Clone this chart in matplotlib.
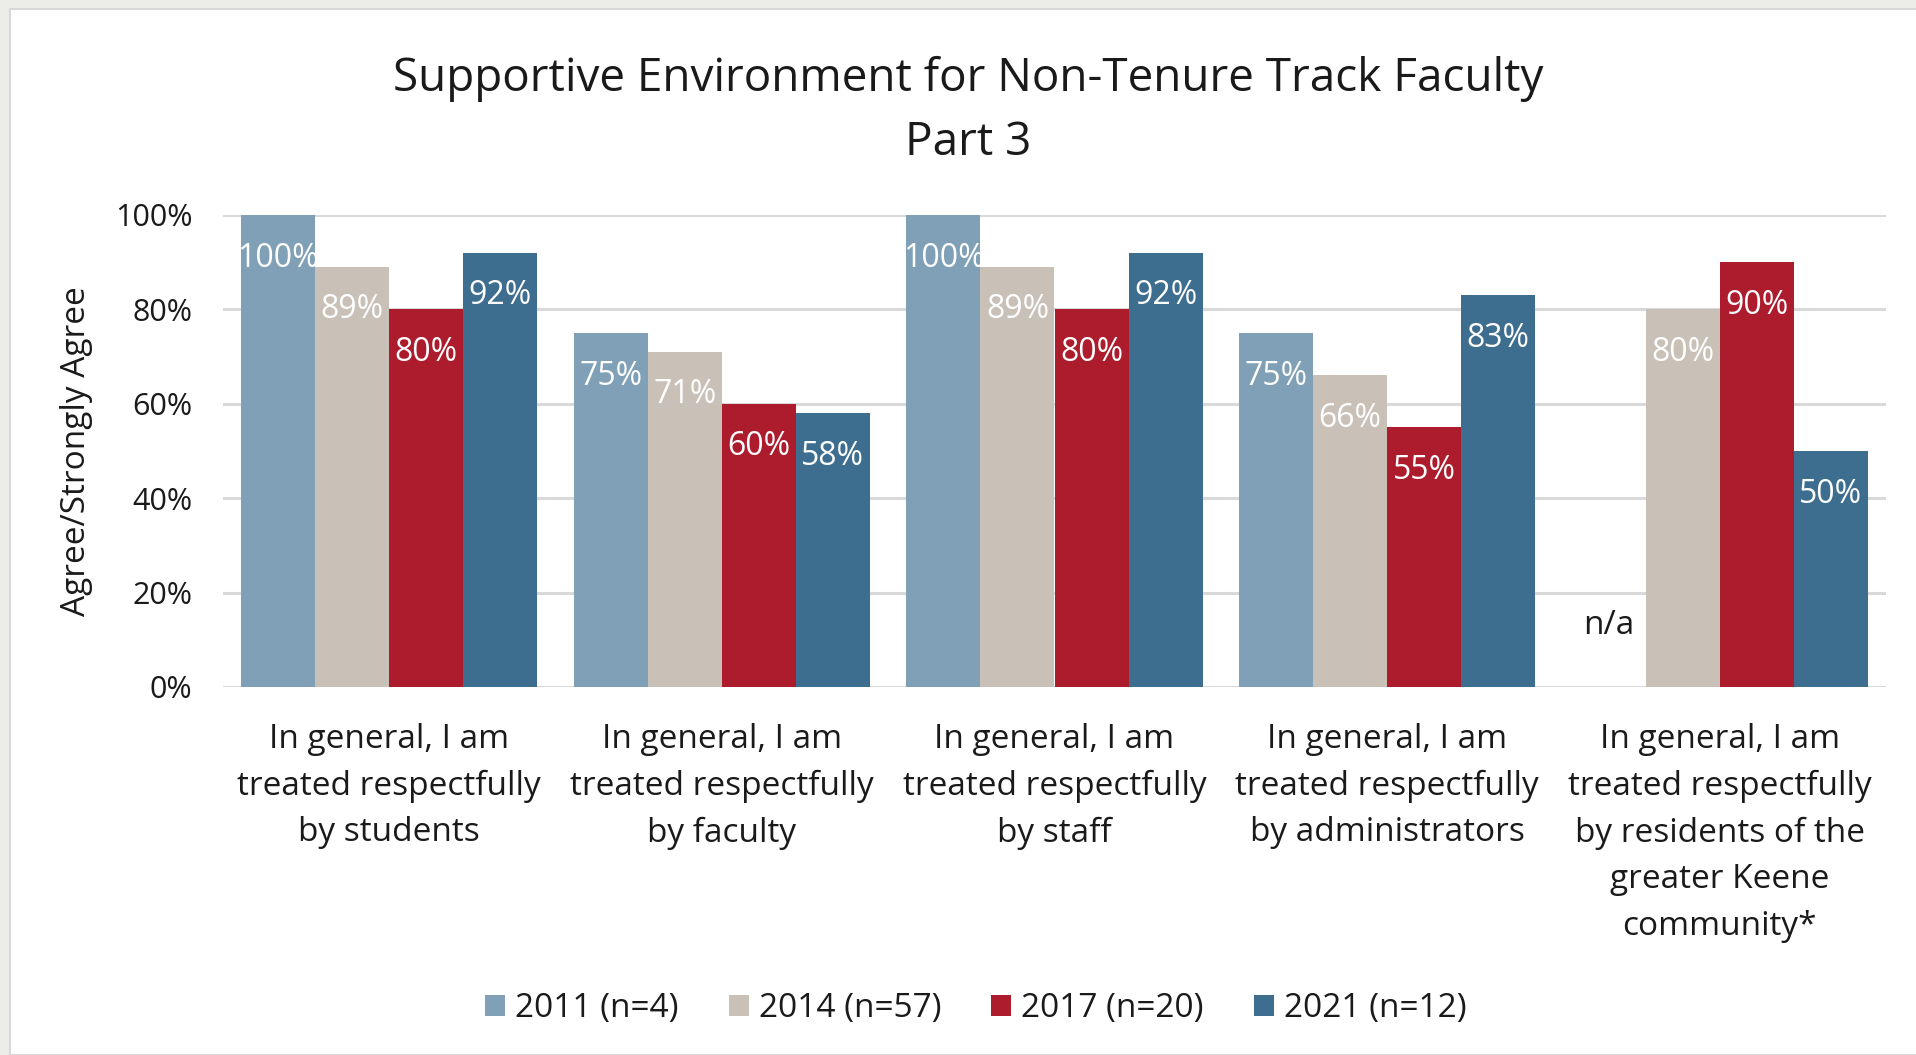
#!/usr/bin/env python3

import numpy as np
import matplotlib.pyplot as plt
from matplotlib.patches import Rectangle

# -------------------------------------------------------------------------
# Data
# -------------------------------------------------------------------------

categories = [
    "In general, I am\ntreated respectfully\nby students",
    "In general, I am\ntreated respectfully\nby faculty",
    "In general, I am\ntreated respectfully\nby staff",
    "In general, I am\ntreated respectfully\nby administrators",
    "In general, I am\ntreated respectfully\nby residents of the\ngreater Keene\ncommunity*",
]
series_names = ["2011 (n=4)", "2014 (n=57)", "2017 (n=20)", "2021 (n=12)"]
vals_2011 = [1.00, 0.75, 1.00, 0.75, np.nan]
vals_2014 = [0.89, 0.71, 0.89, 0.66, 0.80]
vals_2017 = [0.80, 0.60, 0.80, 0.55, 0.90]
vals_2021 = [0.92, 0.58, 0.92, 0.83, 0.50]
colors = ["#7fa0b6", "#c9c0b7", "#ad1c2c", "#3d6e8f"]

title = "Supportive Environment for Non-Tenure Track Faculty\nPart 3"
ylabel = "Agree/Strongly Agree"
yticks = [0, 0.2, 0.4, 0.6, 0.8, 1.0]

# -------------------------------------------------------------------------
# Plot
# -------------------------------------------------------------------------

plt.rcParams['font.family'] = ['Open Sans', 'DejaVu Sans']

fig = plt.figure(figsize=(19.16, 10.55), dpi=100)
fig.patch.set_facecolor("#ecece8")
# white panel with thin border, behind the axes
fig.add_artist(Rectangle((10 / 1916, 0), 1.0, 1 - 9 / 1055, transform=fig.transFigure,
                         facecolor="white", edgecolor="#d8d8d8", linewidth=1.5,
                         zorder=-10))

ax = fig.add_axes([223 / 1916, 1 - 687 / 1055, (1886 - 223) / 1916, (687 - 215) / 1055])
ax.set_facecolor("none")

all_vals = [vals_2011, vals_2014, vals_2017, vals_2021]
x = np.arange(len(categories))
width = 0.2225

for i, (vals, name, c) in enumerate(zip(all_vals, series_names, colors)):
    pos = x + (i - 1.5) * width
    bars = ax.bar(pos, vals, width, color=c, label=name, zorder=3)
    for b, v in zip(bars, vals):
        if np.isnan(v):
            ax.text(b.get_x() + width / 2, 0.13, "n/a", ha="center", va="center",
                    fontsize=24, color="#1a1a1a")
            continue
        ax.annotate(f"{v:.0%}", (b.get_x() + width / 2, v), xytext=(0, -31),
                    textcoords="offset points", ha="center", va="center",
                    fontsize=23, color="white", zorder=4)

ax.set_xlim(-0.5, len(categories) - 0.5)
ax.set_ylim(0, 1.0)
ax.set_yticks(yticks)
ax.set_yticklabels([f"{t:.0%}" for t in yticks], fontsize=22, color="#1a1a1a")
ax.set_xticks(x)
ax.set_xticklabels(categories, fontsize=24, color="#1a1a1a", linespacing=1.54)
ax.tick_params(axis="both", length=0)
ax.tick_params(axis="x", pad=26)
ax.tick_params(axis="y", pad=22)
ax.yaxis.grid(True, color="#d9d9d9", linewidth=2.2, zorder=0)
ax.set_axisbelow(True)
for s in ax.spines.values():
    s.set_visible(False)

ax.set_ylabel(ylabel, fontsize=24, color="#1a1a1a", labelpad=16)

fig.text(968 / 1916, 1 - 111 / 1055, title, ha="center", va="center",
         fontsize=33, color="#1a1a1a", linespacing=1.5)

fig.legend(loc="center", bbox_to_anchor=(976 / 1916, 1 - 1009 / 1055), ncol=4,
           frameon=False, fontsize=24, handlelength=0.6, handleheight=0.6,
           handletextpad=0.3, columnspacing=1.5, labelcolor="#1a1a1a")

plt.savefig("out.png", dpi=100, facecolor=fig.get_facecolor())
